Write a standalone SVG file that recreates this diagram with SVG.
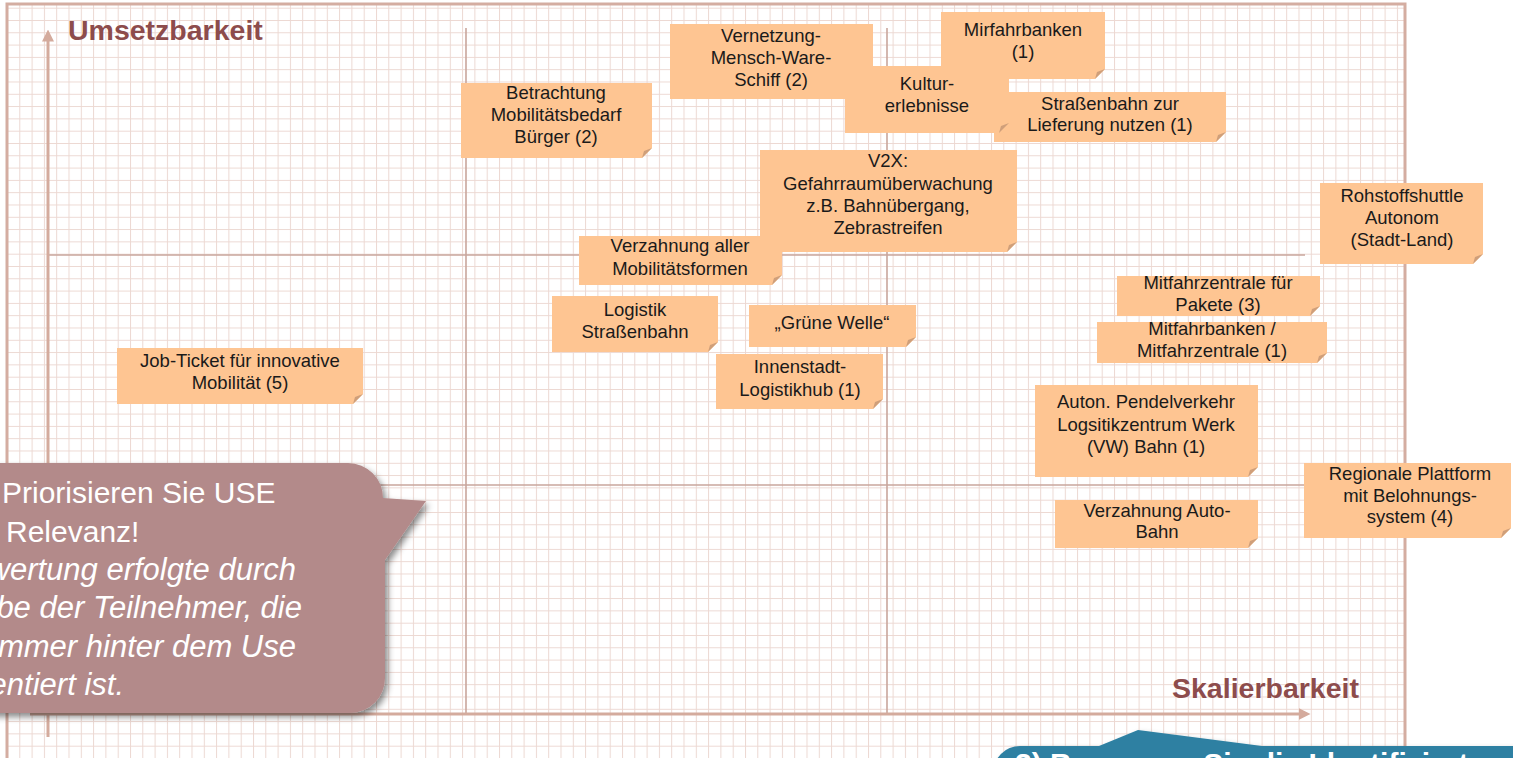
<svg xmlns="http://www.w3.org/2000/svg" width="1513" height="758" viewBox="0 0 1513 758">
<defs>
<pattern id="grid" x="7" y="7.7" width="12.3" height="12.3" patternUnits="userSpaceOnUse">
<path d="M0 0V12.3M0 0H12.3" fill="none" stroke="#ecd8d2" stroke-width="2"/>
</pattern>
<filter id="sh" x="-10%" y="-10%" width="130%" height="130%">
<feDropShadow dx="3" dy="4" stdDeviation="3" flood-color="#000" flood-opacity="0.45"/>
</filter>
<marker id="ah" markerWidth="4" markerHeight="4" refX="0.5" refY="2" orient="auto" markerUnits="strokeWidth">
<path d="M0 0L4 2L0 4Z" fill="#d4ab9d"/>
</marker>
<style>
.note{fill:#fec592}
.fold{fill:#cf9f7a}
.nt{font-family:"Liberation Sans",Arial,sans-serif;font-size:18.5px;fill:#1a1a1a;text-anchor:middle}
.ax{font-family:"Liberation Sans",Arial,sans-serif;font-size:28.5px;font-weight:bold;fill:#8d4c4c}
.q{stroke:#c9a69c;stroke-width:1.6;fill:none}
.axis{stroke:#d4ab9d;stroke-width:3;fill:none}
.ct{font-family:"Liberation Sans",Arial,sans-serif;font-size:30px;fill:#ffffff}
.ci{font-family:"Liberation Sans",Arial,sans-serif;font-size:31px;font-style:italic;fill:#ffffff;text-anchor:end}
</style>
</defs>
<rect width="1513" height="758" fill="#ffffff"/>
<g id="frame">
<rect x="7" y="4" width="1398" height="760" fill="url(#grid)"/>
<path d="M7 766V4H1405V766" fill="none" stroke="#d4ada1" stroke-width="3"/>
</g>
<g id="axes">
<line class="q" x1="466" y1="28" x2="466" y2="715"/>
<line class="q" x1="887" y1="28" x2="887" y2="715"/>
<line class="q" x1="48" y1="255" x2="1305" y2="255"/>
<line class="q" x1="48" y1="485" x2="1305" y2="485"/>
<line class="axis" x1="48" y1="737" x2="48" y2="40" marker-end="url(#ah)"/>
<line class="axis" x1="30" y1="714" x2="1300" y2="714" marker-end="url(#ah)"/>
<text class="ax" x="68" y="40">Umsetzbarkeit</text>
<text class="ax" x="1172" y="698">Skalierbarkeit</text>
</g>
<g id="n-betrachtung"><path class="note" d="M461 83H652V148L642 158H461Z"/><path class="fold" d="M642 158L644 151L652 148Z"/>
<text class="nt"><tspan x="556" y="99">Betrachtung</tspan><tspan x="556" y="121">Mobilitätsbedarf</tspan><tspan x="556" y="143">Bürger (2)</tspan></text></g>
<g id="n-vernetzung"><path class="note" d="M670 24H873V89L863 99H670Z"/><path class="fold" d="M863 99L865 92L873 89Z"/>
<text class="nt"><tspan x="771" y="42">Vernetzung-</tspan><tspan x="771" y="64">Mensch-Ware-</tspan><tspan x="771" y="86">Schiff (2)</tspan></text></g>
<g id="n-mirfahrbanken"><path class="note" d="M941 12H1105V69L1095 79H941Z"/><path class="fold" d="M1095 79L1097 72L1105 69Z"/>
<text class="nt"><tspan x="1023" y="36">Mirfahrbanken</tspan><tspan x="1023" y="58">(1)</tspan></text></g>
<g id="n-strassenbahn"><path class="note" d="M994 92H1226V132L1216 142H994Z"/><path class="fold" d="M1216 142L1218 135L1226 132Z"/>
<text class="nt"><tspan x="1110" y="110">Straßenbahn zur</tspan><tspan x="1110" y="131">Lieferung nutzen (1)</tspan></text></g>
<g id="n-kultur"><path class="note" d="M845 66H1009V123L999 133H845Z"/><path class="fold" d="M999 133L1001 126L1009 123Z"/>
<text class="nt"><tspan x="927" y="90">Kultur-</tspan><tspan x="927" y="112">erlebnisse</tspan></text></g>
<g id="n-v2x"><path class="note" d="M760 150H1017V242L1007 252H760Z"/><path class="fold" d="M1007 252L1009 245L1017 242Z"/>
<text class="nt"><tspan x="888" y="167">V2X:</tspan><tspan x="888" y="190">Gefahrraumüberwachung</tspan><tspan x="888" y="212">z.B. Bahnübergang,</tspan><tspan x="888" y="234">Zebrastreifen</tspan></text></g>
<g id="n-verzahnung-aller"><path class="note" d="M579 236H782V275L772 285H579Z"/><path class="fold" d="M772 285L774 278L782 275Z"/>
<text class="nt"><tspan x="680" y="252">Verzahnung aller</tspan><tspan x="680" y="275">Mobilitätsformen</tspan></text></g>
<g id="n-logistik"><path class="note" d="M552 296H718V342L708 352H552Z"/><path class="fold" d="M708 352L710 345L718 342Z"/>
<text class="nt"><tspan x="635" y="316">Logistik</tspan><tspan x="635" y="338">Straßenbahn</tspan></text></g>
<g id="n-gruene-welle"><path class="note" d="M749 305H916V337L906 347H749Z"/><path class="fold" d="M906 347L908 340L916 337Z"/>
<text class="nt" x="832" y="329">„Grüne Welle“</text></g>
<g id="n-innenstadt"><path class="note" d="M716 354H883V399L873 409H716Z"/><path class="fold" d="M873 409L875 402L883 399Z"/>
<text class="nt"><tspan x="800" y="373">Innenstadt-</tspan><tspan x="800" y="396">Logistikhub (1)</tspan></text></g>
<g id="n-jobticket"><path class="note" d="M117 348H363V394L353 404H117Z"/><path class="fold" d="M353 404L355 397L363 394Z"/>
<text class="nt"><tspan x="240" y="367">Job-Ticket für innovative</tspan><tspan x="240" y="389">Mobilität (5)</tspan></text></g>
<g id="n-rohstoffshuttle"><path class="note" d="M1320 183H1483V254L1473 264H1320Z"/><path class="fold" d="M1473 264L1475 257L1483 254Z"/>
<text class="nt"><tspan x="1402" y="202">Rohstoffshuttle</tspan><tspan x="1402" y="224">Autonom</tspan><tspan x="1402" y="246">(Stadt-Land)</tspan></text></g>
<g id="n-mitfahrzentrale-pakete"><path class="note" d="M1117 276H1320V306L1310 316H1117Z"/><path class="fold" d="M1310 316L1312 309L1320 306Z"/>
<text class="nt"><tspan x="1218" y="289">Mitfahrzentrale für</tspan><tspan x="1218" y="311">Pakete (3)</tspan></text></g>
<g id="n-mitfahrbanken"><path class="note" d="M1097 322H1327V353L1317 363H1097Z"/><path class="fold" d="M1317 363L1319 356L1327 353Z"/>
<text class="nt"><tspan x="1212" y="335">Mitfahrbanken /</tspan><tspan x="1212" y="357">Mitfahrzentrale (1)</tspan></text></g>
<g id="n-pendelverkehr"><path class="note" d="M1035 385H1258V467L1248 477H1035Z"/><path class="fold" d="M1248 477L1250 470L1258 467Z"/>
<text class="nt"><tspan x="1146" y="408">Auton. Pendelverkehr</tspan><tspan x="1146" y="431">Logsitikzentrum Werk</tspan><tspan x="1146" y="453">(VW) Bahn (1)</tspan></text></g>
<g id="n-verzahnung-auto"><path class="note" d="M1055 500H1258V538L1248 548H1055Z"/><path class="fold" d="M1248 548L1250 541L1258 538Z"/>
<text class="nt"><tspan x="1157" y="517">Verzahnung Auto-</tspan><tspan x="1157" y="538">Bahn</tspan></text></g>
<g id="n-regionale"><path class="note" d="M1304 463H1511V528L1501 538H1304Z"/><path class="fold" d="M1501 538L1503 531L1511 528Z"/>
<text class="nt"><tspan x="1410" y="480">Regionale Plattform</tspan><tspan x="1410" y="502">mit Belohnungs-</tspan><tspan x="1410" y="523">system (4)</tspan></text></g>
<g id="callout-priorisieren">
<path d="M-200 463H348A35 35 0 0 1 383 498L426 501L385 560V678A35 35 0 0 1 350 713H-200Z" fill="#b38a8a" filter="url(#sh)"/>
<text class="ct" x="2" y="503">Priorisieren Sie USE</text>
<text class="ct" x="6" y="542">Relevanz!</text>
<text class="ci" x="296" y="580">wertung erfolgte durch</text>
<text class="ci" x="302" y="618">be der Teilnehmer, die</text>
<text class="ci" x="296" y="657">mmer hinter dem Use</text>
<text class="ci" x="124" y="695">entiert ist.</text>
</g>
<g id="callout-benennen">
<path d="M1020 746H1099L1138 730L1262 746H1560V800H993V773A27 27 0 0 1 1020 746Z" fill="#2e80a2" filter="url(#sh)"/>
<text class="ct" x="1015" y="774" font-weight="bold">3) Benennen Sie die Identifizierten U</text>
</g>
</svg>
